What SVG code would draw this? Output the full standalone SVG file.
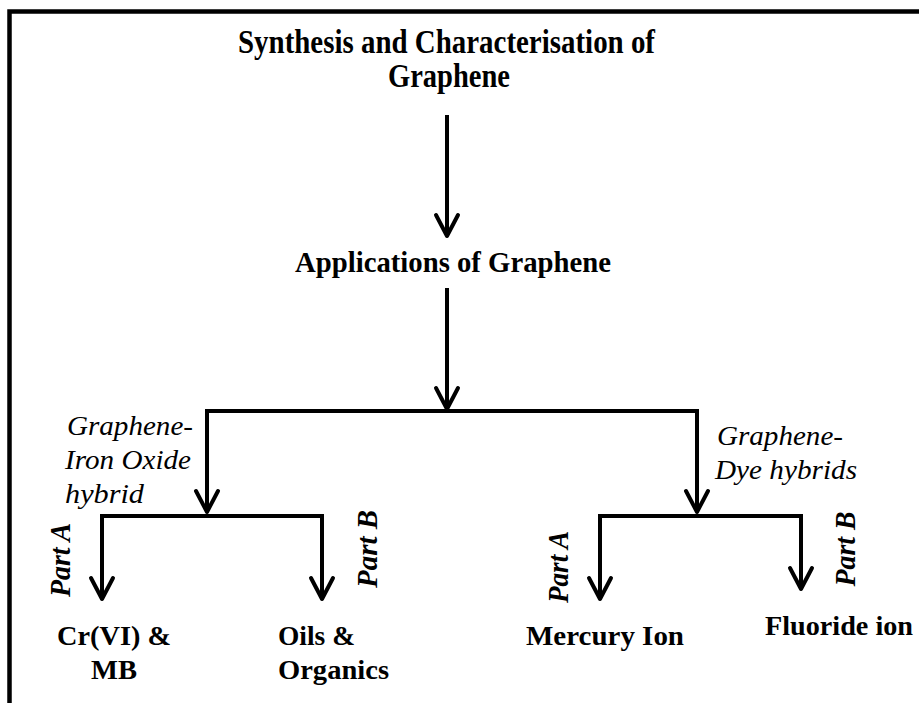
<svg xmlns="http://www.w3.org/2000/svg" width="919" height="703" viewBox="0 0 919 703">
  <style>
    .frame { fill: none; stroke: #000; stroke-width: 4.5; }
    .wire { fill: none; stroke: #000; stroke-width: 4; stroke-linejoin: miter; }
    .head { fill: none; stroke: #000; stroke-width: 4; stroke-linejoin: round; stroke-linecap: round; }
    .title { font-family: "Liberation Serif", "Times New Roman", serif; font-weight: bold; font-size: 33px; fill: #000; }
    .lbl { font-family: "Liberation Serif", "Times New Roman", serif; font-weight: bold; font-size: 28px; fill: #000; }
    .app { font-family: "Liberation Serif", "Times New Roman", serif; font-weight: bold; font-size: 29px; fill: #000; }
    .hyb { font-family: "Liberation Serif", "Times New Roman", serif; font-style: italic; font-size: 27px; fill: #000; }
    .part { font-family: "Liberation Serif", "Times New Roman", serif; font-style: italic; font-weight: bold; font-size: 29px; fill: #000; }
  </style>
  <defs>
    <marker id="vhead" markerUnits="userSpaceOnUse" viewBox="-26 -16 30 32" markerWidth="30" markerHeight="32" refX="0" refY="0" orient="auto-start-reverse" overflow="visible">
      <path class="head" d="M-21,-11 L0,0 L-21,11"/>
    </marker>
  </defs>

  <rect width="919" height="703" fill="#fff"/>

  <!-- outer frame: left and top edges -->
  <path class="frame" d="M9.5,703 V11.5 H919"/>

  <!-- connectors -->
  <g id="connectors">
    <path class="wire" d="M447,115 V236" marker-end="url(#vhead)"/>
    <path class="wire" d="M447,288 V409" marker-end="url(#vhead)"/>
    <path class="wire" d="M207,512 V411 H697 V512" marker-start="url(#vhead)" marker-end="url(#vhead)"/>
    <path class="wire" d="M102,599 V516 H322 V599" marker-start="url(#vhead)" marker-end="url(#vhead)"/>
    <path class="wire" d="M600,599 V516 H801 V589" marker-start="url(#vhead)" marker-end="url(#vhead)"/>
  </g>

  <g id="synthesis">
    <text class="title" x="238" y="53" textLength="417" lengthAdjust="spacingAndGlyphs">Synthesis and Characterisation of</text>
    <text class="title" x="388" y="87" textLength="122" lengthAdjust="spacingAndGlyphs">Graphene</text>
  </g>

  <g id="applications">
    <text class="app" x="295" y="272" textLength="316" lengthAdjust="spacingAndGlyphs">Applications of Graphene</text>
  </g>

  <g id="iron-oxide-hybrid">
    <text class="hyb" x="67" y="435" textLength="126" lengthAdjust="spacingAndGlyphs">Graphene-</text>
    <text class="hyb" x="65" y="469" textLength="126" lengthAdjust="spacingAndGlyphs">Iron Oxide</text>
    <text class="hyb" x="65" y="503" textLength="79" lengthAdjust="spacingAndGlyphs">hybrid</text>
  </g>

  <g id="dye-hybrids">
    <text class="hyb" x="717" y="445" textLength="126" lengthAdjust="spacingAndGlyphs">Graphene-</text>
    <text class="hyb" x="715" y="479" textLength="142" lengthAdjust="spacingAndGlyphs">Dye hybrids</text>
  </g>

  <g id="part-labels">
    <text class="part" transform="translate(70,560) rotate(-90)" text-anchor="middle" textLength="74" lengthAdjust="spacingAndGlyphs">Part A</text>
    <text class="part" transform="translate(377,549) rotate(-90)" text-anchor="middle" textLength="78" lengthAdjust="spacingAndGlyphs">Part B</text>
    <text class="part" transform="translate(568,567) rotate(-90)" text-anchor="middle" textLength="72" lengthAdjust="spacingAndGlyphs">Part A</text>
    <text class="part" transform="translate(855,549) rotate(-90)" text-anchor="middle" textLength="75" lengthAdjust="spacingAndGlyphs">Part B</text>
  </g>

  <g id="cr-mb">
    <text class="lbl" x="57" y="645" textLength="114" lengthAdjust="spacingAndGlyphs">Cr(VI) &amp;</text>
    <text class="lbl" x="91" y="679" textLength="46" lengthAdjust="spacingAndGlyphs">MB</text>
  </g>

  <g id="oils-organics">
    <text class="lbl" x="278" y="645" textLength="77" lengthAdjust="spacingAndGlyphs">Oils &amp;</text>
    <text class="lbl" x="278" y="679" textLength="111" lengthAdjust="spacingAndGlyphs">Organics</text>
  </g>

  <g id="mercury-ion">
    <text class="lbl" x="526" y="645" textLength="158" lengthAdjust="spacingAndGlyphs">Mercury Ion</text>
  </g>

  <g id="fluoride-ion">
    <text class="lbl" x="765" y="635" textLength="148" lengthAdjust="spacingAndGlyphs">Fluoride ion</text>
  </g>
</svg>
